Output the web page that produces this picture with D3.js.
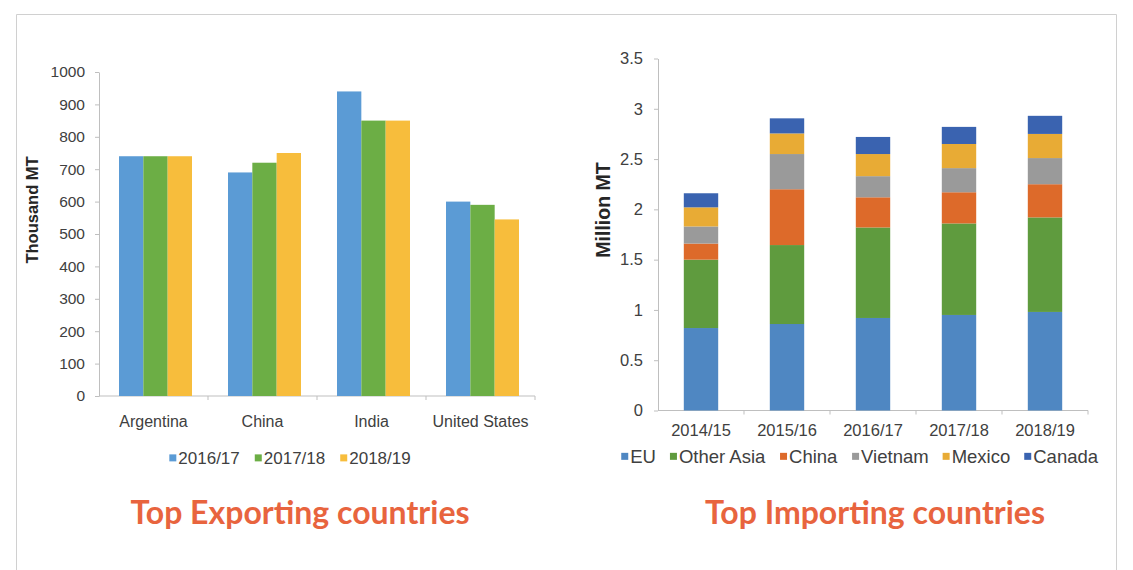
<!DOCTYPE html>
<html>
<head>
<meta charset="utf-8">
<script src="https://cdn.jsdelivr.net/npm/d3@7.9.0/dist/d3.min.js"></script>
<style>
  html, body { margin: 0; padding: 0; background: #fff; }
  svg { display: block; font-family: "Liberation Sans", Arial, sans-serif; }
  .axis path, .axis line { stroke: #bfbfbf; }
  .axis text { fill: #404040; }
</style>
</head>
<body>
<svg id="chart" width="1133" height="570"></svg>
<script>
// exporters (thousand MT)
const countries = ['Argentina', 'China', 'India', 'United States'];
const exportYears = ['2016/17', '2017/18', '2018/19'];
const exp2016 = [740, 690, 940, 600];
const exp2017 = [740, 720, 850, 590];
const exp2018 = [740, 750, 850, 545];
const exportTicks = [0, 100, 200, 300, 400, 500, 600, 700, 800, 900, 1000];

// importers (million MT), stacked
const importYears = ['2014/15', '2015/16', '2016/17', '2017/18', '2018/19'];
const importers = ['EU', 'Other Asia', 'China', 'Vietnam', 'Mexico', 'Canada'];
const impEU = [0.82, 0.86, 0.92, 0.95, 0.98];
const impOtherAsia = [0.68, 0.785, 0.90, 0.91, 0.94];
const impChina = [0.16, 0.555, 0.30, 0.31, 0.33];
const impVietnam = [0.17, 0.35, 0.21, 0.24, 0.26];
const impMexico = [0.19, 0.205, 0.22, 0.24, 0.24];
const impCanada = [0.14, 0.15, 0.17, 0.17, 0.18];
const importTicks = [0, 0.5, 1, 1.5, 2, 2.5, 3, 3.5];

const exportColors = ['#5b9bd5', '#6cae45', '#f7bd3c'];
const importColors = ['#4f87c2', '#5f9b3e', '#dd6a2a', '#9a9a9a', '#e8ab35', '#3a63b0'];

const svg = d3.select('#chart');

// frame
svg.append('path')
  .attr('d', 'M16.5,570V14.5H1116.5V570')
  .attr('fill', 'none')
  .attr('stroke', '#d0d0d0');

// ---------- left chart ----------
const expSeries = [exp2016, exp2017, exp2018];
const xL = d3.scaleBand().domain(countries).range([99, 535]);
const xLsub = d3.scaleBand().domain(exportYears).range([20, 93]);
const yL = d3.scaleLinear().domain([0, 1000]).range([396, 72]);

const left = svg.append('g');

left.append('g')
  .attr('class', 'axis')
  .attr('transform', `translate(${xL.range()[0]},0)`)
  .call(d3.axisLeft(yL).tickValues(exportTicks).tickFormat(d3.format('d'))
    .tickSize(4).tickPadding(10).tickSizeOuter(0))
  .call(g => g.selectAll('text').style('font-size', '15.5px'));

const xAxisL = left.append('g')
  .attr('class', 'axis')
  .attr('transform', `translate(0,${yL(0)})`);
xAxisL.append('line')
  .attr('x1', xL.range()[0]).attr('x2', xL.range()[1]);
xAxisL.selectAll('.tk')
  .data(countries)
  .join('line')
  .attr('x1', d => xL(d) + xL.bandwidth()).attr('x2', d => xL(d) + xL.bandwidth())
  .attr('y1', 0).attr('y2', 4);
xAxisL.selectAll('text')
  .data(countries)
  .join('text')
  .attr('x', d => xL(d) + xL.bandwidth() / 2)
  .attr('y', 31)
  .attr('text-anchor', 'middle')
  .style('font-size', '16px')
  .text(d => d);

expSeries.forEach((vals, i) => {
  left.append('g')
    .selectAll('rect')
    .data(vals)
    .join('rect')
    .attr('x', (d, j) => xL(countries[j]) + xLsub(exportYears[i]))
    .attr('y', d => yL(d))
    .attr('width', xLsub.bandwidth())
    .attr('height', d => yL(0) - yL(d))
    .attr('fill', exportColors[i]);
});

left.append('text')
  .attr('transform', 'translate(38,210) rotate(-90)')
  .attr('text-anchor', 'middle')
  .style('font-size', '16.5px')
  .style('font-weight', 'bold')
  .attr('fill', '#262626')
  .text('Thousand MT');

// ---------- right chart ----------
const impSeries = [impEU, impOtherAsia, impChina, impVietnam, impMexico, impCanada];
const impRows = importYears.map((yr, j) => {
  const row = { year: yr };
  importers.forEach((k, i) => { row[k] = impSeries[i][j]; });
  return row;
});
const stacked = d3.stack().keys(importers)(impRows);

const xR = d3.scaleBand().domain(importYears).range([658, 1088]).paddingInner(0.6).paddingOuter(0.3);
const yR = d3.scaleLinear().domain([0, 3.5]).range([410.5, 58.5]);

const right = svg.append('g');

right.append('g')
  .attr('class', 'axis')
  .attr('transform', `translate(${xR.range()[0]},0)`)
  .call(d3.axisLeft(yR).tickValues(importTicks).tickFormat(d => String(d))
    .tickSize(4).tickPadding(11).tickSizeOuter(0))
  .call(g => g.selectAll('text').style('font-size', '16.5px'));

const xAxisR = right.append('g')
  .attr('class', 'axis')
  .attr('transform', `translate(0,${yR(0)})`);
xAxisR.append('line')
  .attr('x1', xR.range()[0]).attr('x2', xR.range()[1]);
xAxisR.selectAll('.tk')
  .data(importYears)
  .join('line')
  .attr('x1', d => xR(d) + xR.bandwidth() / 2 + xR.step() / 2)
  .attr('x2', d => xR(d) + xR.bandwidth() / 2 + xR.step() / 2)
  .attr('y1', 0).attr('y2', 4);
xAxisR.selectAll('text')
  .data(importYears)
  .join('text')
  .attr('x', d => xR(d) + xR.bandwidth() / 2)
  .attr('y', 25)
  .attr('text-anchor', 'middle')
  .style('font-size', '16.5px')
  .text(d => d);

right.selectAll('g.layer')
  .data(stacked)
  .join('g')
  .attr('class', 'layer')
  .attr('fill', (d, i) => importColors[i])
  .selectAll('rect')
  .data(d => d)
  .join('rect')
  .attr('x', d => xR(d.data.year))
  .attr('y', d => yR(d[1]))
  .attr('width', xR.bandwidth())
  .attr('height', d => yR(d[0]) - yR(d[1]));

right.append('text')
  .attr('transform', 'translate(610,210) rotate(-90)')
  .attr('text-anchor', 'middle')
  .style('font-size', '19.5px')
  .style('font-weight', 'bold')
  .attr('fill', '#262626')
  .text('Million MT');

// ---------- legends ----------
function legend(labels, colors, cx, y, size, gap) {
  const g = svg.append('g');
  const items = g.selectAll('g')
    .data(labels)
    .join('g');
  items.append('rect')
    .attr('width', 7).attr('height', 7)
    .attr('y', -size * 0.36 - 3.5)
    .attr('fill', (d, i) => colors[i]);
  items.append('text')
    .attr('x', 9)
    .style('font-size', size + 'px')
    .attr('fill', '#404040')
    .text(d => d);
  let x = 0;
  const pos = [];
  items.each(function () {
    pos.push(x);
    x += this.getBBox().width + gap;
  });
  const total = x - gap;
  items.attr('transform', (d, i) => `translate(${cx - total / 2 + pos[i]},${y})`);
}
legend(exportYears, exportColors, 290, 464, 17, 15);
legend(importers, importColors, 860, 463, 18.5, 14);

// ---------- titles ----------
svg.selectAll('text.title')
  .data([
    { t: 'Top Exporting countries', x: 300 },
    { t: 'Top Importing countries', x: 875 }
  ])
  .join('text')
  .attr('class', 'title')
  .attr('x', d => d.x)
  .attr('y', 524)
  .attr('text-anchor', 'middle')
  .style('font-family', 'Lato, "Open Sans", sans-serif')
  .style('font-weight', 'bold')
  .style('font-size', '32px')
  .attr('fill', '#e8643e')
  .text(d => d.t);
</script>
</body>
</html>
